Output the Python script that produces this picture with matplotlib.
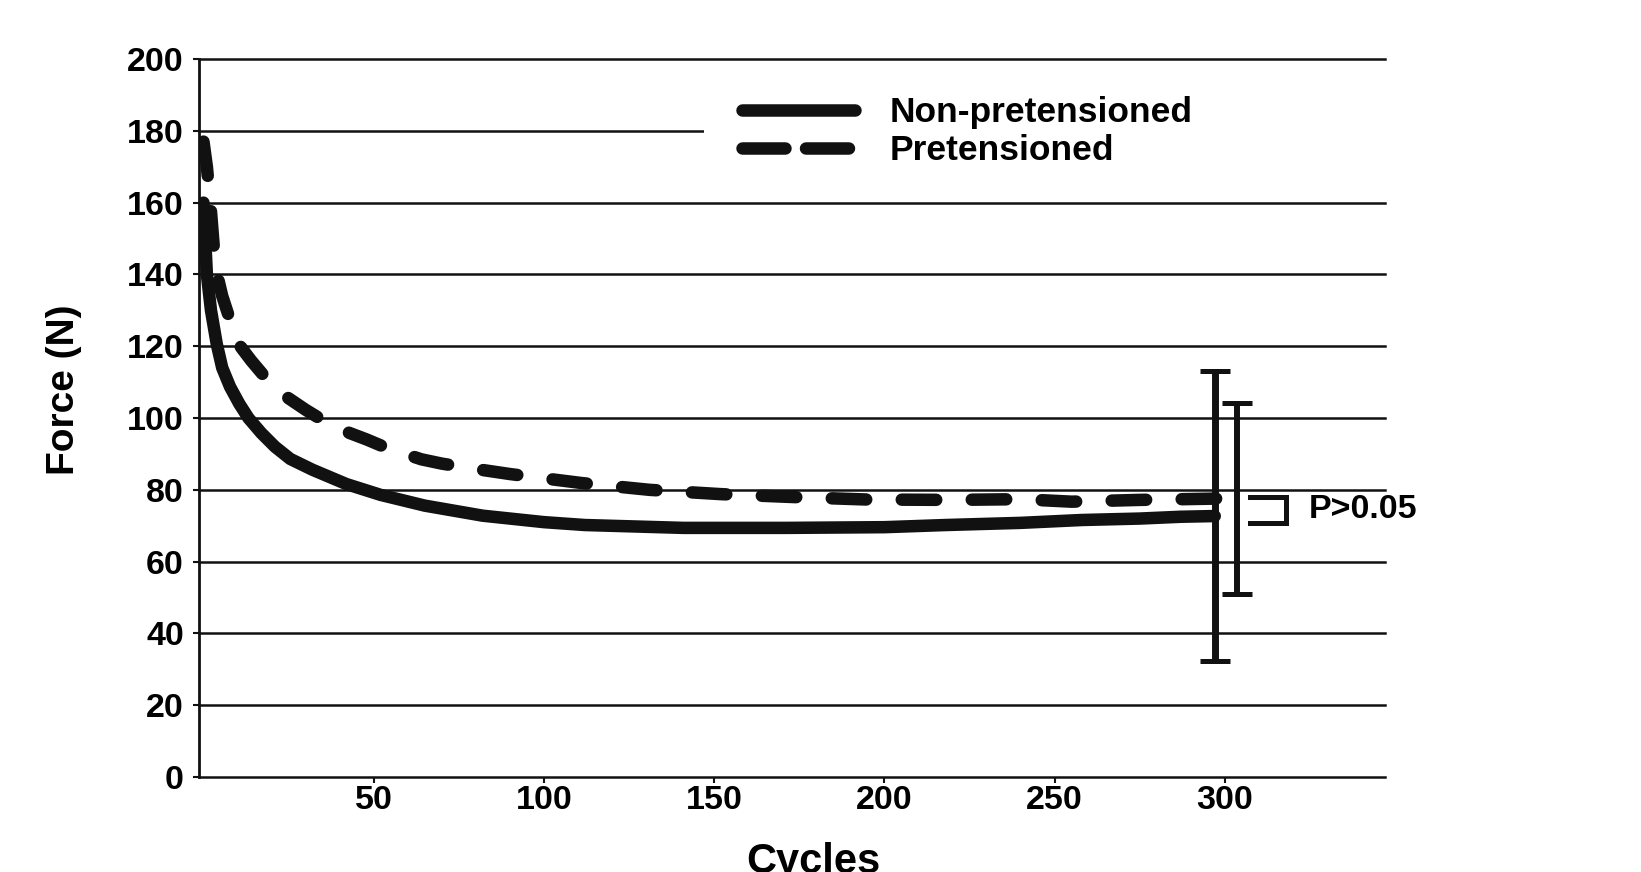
import matplotlib
matplotlib.use("Agg")
import matplotlib.pyplot as plt
from matplotlib.lines import Line2D
from matplotlib.legend_handler import HandlerLine2D

plt.rcParams['font.family'] = ['Liberation Sans', 'DejaVu Sans']
plt.rcParams['font.weight'] = 'bold'

# Non-pretensioned (solid line)
cycles_np = [0, 1, 2.2, 3.9, 5.5, 7.8, 10.5, 13.2, 17, 21, 25.5, 32, 42, 52, 65, 82,
             100, 112, 141, 171, 200, 218, 240, 258, 275, 287, 297]
force_np = [160, 140, 130, 120.6, 114, 108.7, 104, 100, 95.8, 92, 88.6, 85.6, 81.6, 78.6, 75.6,
            72.8, 71, 70.2, 69.4, 69.4, 69.6, 70.2, 70.8, 71.6, 72, 72.5, 72.7]

# Pretensioned (dashed line)
cycles_p = [0, 1, 2, 3, 4, 5.5, 7.8, 10.8, 14, 18, 21.5, 25, 30, 35, 39, 43, 48, 54, 64,
            70, 80, 90, 111, 131, 152, 173, 195, 220, 240, 255, 275, 300]
force_p = [177, 170, 160, 148, 140, 134, 127.3, 120, 116, 111.5, 108.3, 105.5, 102.3, 99.4,
           97.5, 95.8, 94, 91.6, 88.5, 87.3, 85.8, 84.4, 81.9, 80, 78.8, 78, 77.3, 77.2,
           77.4, 76.7, 77.2, 77.6]

# error bars at the last cycle (mean +/- sd)
err_x = [297, 303.5]
err_mean = [72.7, 77.6]
err_sd = [40.4, 26.6]

# significance bracket
bracket_x = [307.3, 317.8]
bracket_y = [78, 70.8]
p_label = "P>0.05"

labels = ["Non-pretensioned", "Pretensioned"]
yticks = list(range(0, 201, 20))
xticks = [50, 100, 150, 200, 250, 300]

ink = '#111111'

fig = plt.figure(figsize=(16.41, 8.72), dpi=100)
ax = fig.add_axes([0.1213, 0.1089, 0.7227, 0.8234])

ax.plot(cycles_np, force_np, color=ink, lw=9, solid_capstyle='round',
        solid_joinstyle='round', zorder=3)
ln, = ax.plot(cycles_p, force_p, color=ink, lw=9, dash_capstyle='round', zorder=3)
ln.set_dashes((2.76, 2.84))

ax.errorbar(err_x[0], err_mean[0], yerr=err_sd[0], fmt='none', ecolor=ink,
            elinewidth=5, capsize=10.8, capthick=3.6, zorder=4)
ax.errorbar(err_x[1], err_mean[1], yerr=err_sd[1], fmt='none', ecolor=ink,
            elinewidth=4.3, capsize=10.8, capthick=3.6, zorder=4)

bx0, bx1 = bracket_x
ax.plot([bx0, bx1, bx1, bx0], [bracket_y[0], bracket_y[0], bracket_y[1], bracket_y[1]],
        color=ink, lw=3.6, solid_joinstyle='miter', clip_on=False)
ax.text(324.5, sum(bracket_y) / 2, p_label, fontsize=24.5, fontweight='bold',
        va='center', ha='left')

ax.set_xlim(-1.3, 347)
ax.set_ylim(0, 200)
ax.set_yticks(yticks)
ax.set_xticks(xticks)
ax.set_axisbelow(True)
ax.yaxis.grid(True, color=ink, lw=1.8)
for gl in ax.yaxis.get_gridlines():
    gl.set_clip_on(False)

for s in ['top', 'right', 'bottom']:
    ax.spines[s].set_visible(False)
ax.spines['left'].set_linewidth(2)
ax.spines['left'].set_color(ink)

ax.tick_params(axis='y', length=4, width=1.5, pad=7, labelsize=24.5, color=ink)
ax.tick_params(axis='x', length=4, width=1.5, pad=1.5, labelsize=24.5, color=ink)

ax.set_ylabel("Force (N)", fontsize=28, fontweight='bold')
ax.yaxis.set_label_coords(-0.0987, 0.539)
ax.set_xlabel("Cycles", fontsize=30, fontweight='bold')
ax.xaxis.set_label_coords(0.518, -0.0905)

h_np = Line2D([], [], color=ink, lw=9, solid_capstyle='round')
h_p = Line2D([], [], color=ink, lw=9, dash_capstyle='round', dashes=(3.44, 1.64))
leg = ax.legend([h_np, h_p], labels, loc='upper left',
                bbox_to_anchor=(0.4258, 0, 0.585, 0.9624), mode='expand',
                borderaxespad=0, borderpad=0.28, handlelength=3.98, handletextpad=0.99,
                labelspacing=0.15, fancybox=False, framealpha=1,
                prop={'size': 25.5, 'weight': 'bold'},
                handler_map={h_np: HandlerLine2D(xpad=0.79), h_p: HandlerLine2D(xpad=0.79)})
leg.get_frame().set_facecolor('white')
leg.get_frame().set_edgecolor('none')

fig.savefig("out.png", dpi=100)
